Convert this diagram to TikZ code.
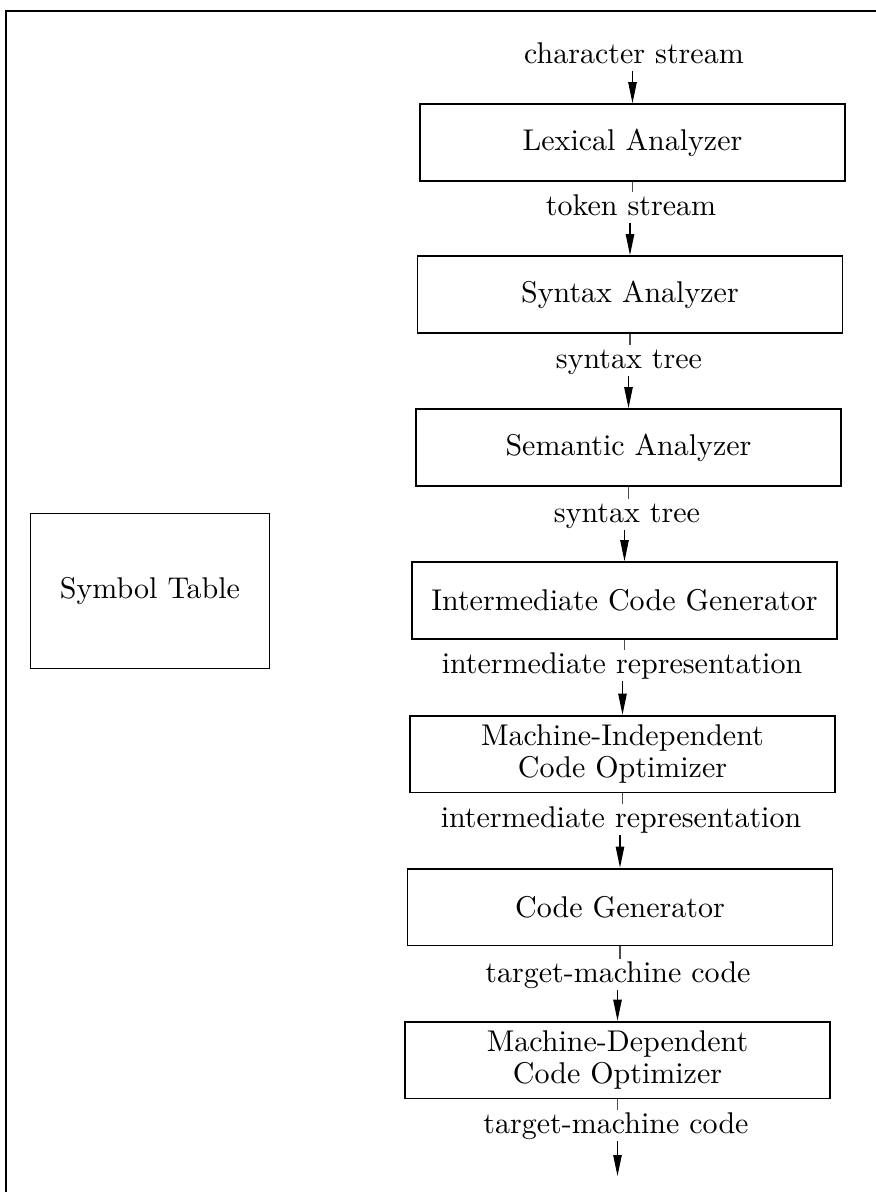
\documentclass[tikz,border=0pt]{standalone}
\usetikzlibrary{arrows.meta}
\begin{document}
\begin{tikzpicture}[x=0.3333pt, y=-0.3333pt,
  phase/.style={draw, line width=0.6pt, minimum width=141.7pt, minimum height=25.6pt,
    inner sep=0pt, align=center, font=\fontsize{10}{10.7}\selectfont},
  flowlabel/.style={anchor=base, inner sep=0.4pt, text height=7pt, text depth=2pt,
    font=\fontsize{10}{12}\selectfont},
  tick/.style={line width=0.4pt, draw=black!70},
  flow/.style={line width=0.4pt, -{Triangle[length=7pt,width=2.8pt]}},
  frame/.style={line width=0.7pt}]
  \useasboundingbox (0,0) rectangle (876,1192);

  % page frame: top rule and left rule
  \coordinate (ftl) at (6,11);
  \coordinate (ftr) at (876,11);
  \coordinate (fbl) at (6,1192);
  \draw[frame] (ftr) -- (ftl) -- (fbl);

  % compiler phases
  \node[phase] (lex) at (632.5,142.5) {Lexical Analyzer};
  \node[phase] (syn) at (630,294.5) {Syntax Analyzer};
  \node[phase] (sem) at (628.5,447.5) {Semantic Analyzer};
  \node[phase] (icg) at (624.5,600.5) {Intermediate Code Generator};
  \node[phase] (mio) at (622.5,754) {Machine-Independent\\Code Optimizer};
  \node[phase] (cg)  at (620,907) {Code Generator};
  \node[phase] (mdo) at (617.5,1060) {Machine-Dependent\\Code Optimizer};

  % symbol table
  \node[phase, minimum width=79.7pt, minimum height=51.7pt] (symtab) at (150,591) {Symbol Table};

  % stream labels between phases
  \node[flowlabel] (l1) at (634,63) {character stream};
  \node[flowlabel] (l2) at (631,215) {token stream};
  \node[flowlabel] (l3) at (629,368) {syntax tree};
  \node[flowlabel] (l4) at (627,522) {syntax tree};
  \node[flowlabel] (l5) at (622,673) {intermediate representation};
  \node[flowlabel] (l6) at (621,827) {intermediate representation};
  \node[flowlabel] (l7) at (618,982) {target-machine code};
  \node[flowlabel] (l8) at (616,1133) {target-machine code};
  \coordinate (out) at (617.5,1176);

  % connectors: a short tick under each phase, an arrow into the next one
  \draw[flow] (l1.south -| lex.north) -- (lex.north);
  \draw[tick] (lex.south) -- (l2.north -| lex.south);
  \draw[flow] (l2.south -| syn.north) -- (syn.north);
  \draw[tick] (syn.south) -- (l3.north -| syn.south);
  \draw[flow] (l3.south -| sem.north) -- (sem.north);
  \draw[tick] (sem.south) -- (l4.north -| sem.south);
  \draw[flow] (l4.south -| icg.north) -- (icg.north);
  \draw[tick] (icg.south) -- (l5.north -| icg.south);
  \draw[flow] (l5.south -| mio.north) -- (mio.north);
  \draw[tick] (mio.south) -- (l6.north -| mio.south);
  \draw[flow] (l6.south -| cg.north) -- (cg.north);
  \draw[tick] (cg.south) -- (l7.north -| cg.south);
  \draw[flow] (l7.south -| mdo.north) -- (mdo.north);
  \draw[tick] (mdo.south) -- (l8.north -| mdo.south);
  \draw[flow] (l8.south -| out) -- (out);
\end{tikzpicture}
\end{document}
